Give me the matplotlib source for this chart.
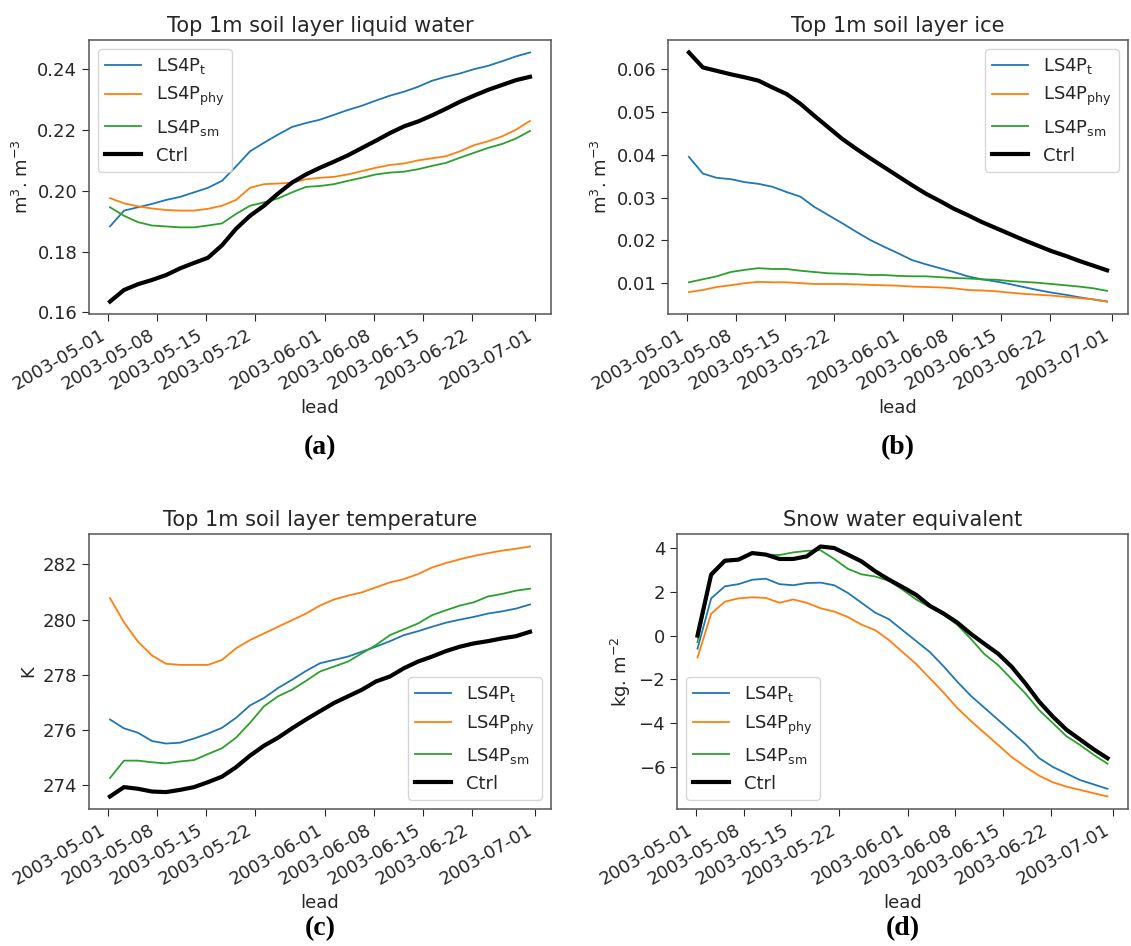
import numpy as np
import matplotlib
matplotlib.use("Agg")
import matplotlib.pyplot as plt
import matplotlib.dates as mdates

# ---- data (every 2 days) ----
dates = np.datetime64("2003-05-01T06:00") + np.arange(31) * np.timedelta64(2, "D")

labels = [r"LS4P$_{\mathrm{t}}$", r"LS4P$_{\mathrm{phy}}$", r"LS4P$_{\mathrm{sm}}$", "Ctrl"]

# (a) liquid water
liq_t = [0.1883, 0.1935, 0.1946, 0.1957, 0.1970, 0.1980, 0.1995, 0.2010, 0.2033, 0.2080,
         0.2130, 0.2158, 0.2185, 0.2210, 0.2223, 0.2234, 0.2250, 0.2266, 0.2280, 0.2297,
         0.2313, 0.2326, 0.2342, 0.2362, 0.2375, 0.2386, 0.2400, 0.2411, 0.2426, 0.2442, 0.2455]
liq_phy = [0.1976, 0.1959, 0.1949, 0.1942, 0.1937, 0.1935, 0.1935, 0.1941, 0.1951, 0.1970,
           0.2010, 0.2022, 0.2024, 0.2027, 0.2038, 0.2043, 0.2046, 0.2054, 0.2065, 0.2076,
           0.2085, 0.2090, 0.2100, 0.2107, 0.2114, 0.2130, 0.2150, 0.2163, 0.2179, 0.2201, 0.2230]
liq_sm = [0.1946, 0.1918, 0.1897, 0.1886, 0.1883, 0.1880, 0.1880, 0.1886, 0.1893, 0.1924,
          0.1951, 0.1962, 0.1975, 0.1995, 0.2013, 0.2016, 0.2022, 0.2033, 0.2043, 0.2054,
          0.2060, 0.2063, 0.2071, 0.2082, 0.2092, 0.2109, 0.2125, 0.2141, 0.2154, 0.2172, 0.2197]
liq_ctrl = [0.1636, 0.1674, 0.1693, 0.1707, 0.1723, 0.1745, 0.1763, 0.1780, 0.1821, 0.1875,
            0.1918, 0.1951, 0.1991, 0.2027, 0.2054, 0.2076, 0.2096, 0.2117, 0.2141, 0.2165,
            0.2190, 0.2212, 0.2228, 0.2248, 0.2270, 0.2293, 0.2313, 0.2332, 0.2348, 0.2364, 0.2375]

# (b) ice
ice_t = [0.0395, 0.0356, 0.0346, 0.0343, 0.0336, 0.0332, 0.0325, 0.0313, 0.0302, 0.0278,
         0.0259, 0.0240, 0.0220, 0.0201, 0.0185, 0.0170, 0.0154, 0.0144, 0.0135, 0.0126,
         0.0116, 0.0109, 0.0104, 0.0098, 0.0091, 0.0084, 0.0078, 0.0073, 0.0067, 0.0062, 0.0057]
ice_phy = [0.0079, 0.0084, 0.0091, 0.0095, 0.0100, 0.0103, 0.0102, 0.0102, 0.0100, 0.0098,
           0.0098, 0.0098, 0.0097, 0.0096, 0.0095, 0.0094, 0.0092, 0.0091, 0.0090, 0.0088,
           0.0084, 0.0083, 0.0081, 0.0078, 0.0075, 0.0073, 0.0071, 0.0068, 0.0065, 0.0062, 0.0057]
ice_sm = [0.0102, 0.0109, 0.0116, 0.0126, 0.0131, 0.0135, 0.0133, 0.0133, 0.0129, 0.0126,
          0.0123, 0.0122, 0.0121, 0.0119, 0.0119, 0.0117, 0.0116, 0.0116, 0.0114, 0.0112,
          0.0111, 0.0109, 0.0108, 0.0105, 0.0103, 0.0101, 0.0098, 0.0095, 0.0092, 0.0088, 0.0082]
ice_ctrl = [0.0639, 0.0604, 0.0596, 0.0588, 0.0581, 0.0573, 0.0557, 0.0542, 0.0519, 0.0491,
            0.0464, 0.0437, 0.0414, 0.0392, 0.0371, 0.0350, 0.0329, 0.0309, 0.0292, 0.0274,
            0.0259, 0.0243, 0.0229, 0.0215, 0.0201, 0.0188, 0.0175, 0.0164, 0.0152, 0.0141, 0.0130]

# (c) temperature
tmp_t = [276.38, 276.06, 275.90, 275.60, 275.51, 275.54, 275.69, 275.87, 276.08, 276.44,
         276.89, 277.16, 277.52, 277.82, 278.14, 278.42, 278.54, 278.66, 278.84, 279.02,
         279.22, 279.44, 279.58, 279.74, 279.89, 280.00, 280.10, 280.22, 280.30, 280.40, 280.55]
tmp_phy = [280.78, 279.90, 279.20, 278.70, 278.40, 278.36, 278.36, 278.36, 278.54, 278.96,
           279.26, 279.50, 279.74, 279.98, 280.22, 280.51, 280.73, 280.87, 280.99, 281.17,
           281.35, 281.47, 281.65, 281.89, 282.05, 282.19, 282.31, 282.41, 282.50, 282.57, 282.65]
tmp_sm = [274.26, 274.89, 274.89, 274.83, 274.79, 274.86, 274.91, 275.13, 275.34, 275.72,
          276.26, 276.86, 277.22, 277.46, 277.78, 278.12, 278.30, 278.48, 278.78, 279.08,
          279.44, 279.65, 279.86, 280.16, 280.34, 280.51, 280.63, 280.84, 280.93, 281.05, 281.12]
tmp_ctrl = [273.59, 273.93, 273.87, 273.77, 273.75, 273.83, 273.93, 274.11, 274.31, 274.65,
            275.07, 275.43, 275.72, 276.06, 276.38, 276.68, 276.98, 277.22, 277.46, 277.76,
            277.94, 278.24, 278.48, 278.66, 278.86, 279.02, 279.14, 279.22, 279.32, 279.40, 279.56]

# (d) snow water equivalent
swe_t = [-0.60, 1.70, 2.25, 2.35, 2.55, 2.60, 2.35, 2.30, 2.40, 2.42,
         2.30, 1.95, 1.50, 1.05, 0.75, 0.25, -0.25, -0.75, -1.40, -2.10,
         -2.75, -3.30, -3.85, -4.40, -4.95, -5.60, -6.00, -6.30, -6.60, -6.80, -7.00]
swe_phy = [-1.00, 1.00, 1.55, 1.70, 1.75, 1.72, 1.50, 1.65, 1.50, 1.25,
           1.10, 0.85, 0.50, 0.25, -0.20, -0.75, -1.30, -1.95, -2.60, -3.30,
           -3.90, -4.45, -5.00, -5.55, -6.00, -6.40, -6.70, -6.90, -7.05, -7.20, -7.35]
swe_sm = [-0.30, 2.70, 3.40, 3.45, 3.75, 3.70, 3.68, 3.80, 3.87, 3.90,
          3.50, 3.05, 2.80, 2.70, 2.50, 2.10, 1.65, 1.30, 0.95, 0.50,
          -0.15, -0.85, -1.35, -2.00, -2.65, -3.40, -4.00, -4.60, -5.00, -5.45, -5.85]
swe_ctrl = [0.00, 2.79, 3.42, 3.47, 3.77, 3.70, 3.50, 3.50, 3.62, 4.07,
            4.00, 3.70, 3.39, 2.94, 2.56, 2.22, 1.86, 1.36, 1.01, 0.60,
            0.08, -0.38, -0.83, -1.43, -2.19, -3.02, -3.70, -4.30, -4.75, -5.20, -5.60]

titles = ["Top 1m soil layer liquid water", "Top 1m soil layer ice",
          "Top 1m soil layer temperature", "Snow water equivalent"]
ylabels = [r"m$^3$. m$^{-3}$", r"m$^3$. m$^{-3}$", "K", r"kg. m$^{-2}$"]
captions = ["(a)", "(b)", "(c)", "(d)"]
series = [[liq_t, liq_phy, liq_sm, liq_ctrl],
          [ice_t, ice_phy, ice_sm, ice_ctrl],
          [tmp_t, tmp_phy, tmp_sm, tmp_ctrl],
          [swe_t, swe_phy, swe_sm, swe_ctrl]]
legend_locs = ["upper left", "upper right", "lower right", "lower left"]

colors = ["#1f77b4", "#ff7f0e", "#2ca02c", "black"]
widths = [1.3, 1.3, 1.3, 3.0]

W, H = 1131, 946
fig = plt.figure(figsize=(W / 100, H / 100), dpi=100)
plt.rcParams["mathtext.fontset"] = "dejavusans"

# axes boxes in pixels: left, top, right, bottom
boxes = [(89, 40, 551, 314), (668, 40, 1128, 314),
         (89, 534, 551, 809), (677, 534, 1128, 809)]
cap_y = [448, 448, 929, 929]

textc = "#262626"
for i, (l, t, r, b) in enumerate(boxes):
    ax = fig.add_axes([l / W, (H - b) / H, (r - l) / W, (b - t) / H])
    for s, c, lw, lab in zip(series[i], colors, widths, labels):
        ax.plot(dates, s, color=c, lw=lw, label=lab)
    ax.set_title(titles[i], fontsize=15, color=textc, pad=6)
    ax.set_ylabel(ylabels[i], fontsize=13, color=textc)
    ax.set_xlabel("lead", fontsize=13, color=textc)
    ax.xaxis.set_major_locator(mdates.DayLocator(bymonthday=[1, 8, 15, 22]))
    ax.xaxis.set_major_formatter(mdates.DateFormatter("%Y-%m-%d"))
    ax.tick_params(axis="both", labelsize=13, colors=textc, length=5)
    for lbl in ax.get_xticklabels():
        lbl.set_rotation(30)
        lbl.set_ha("right")
    for sp in ax.spines.values():
        sp.set_color("#555555")
        sp.set_linewidth(1.1)
    ax.legend(loc=legend_locs[i], fontsize=13, labelcolor=textc)
    cx = (l + r) / 2 / W
    fig.text(cx, 1 - cap_y[i] / H, captions[i], ha="center", va="center",
             fontsize=20, fontweight="bold", family="Liberation Serif", color="black")

fig.savefig("out.png", dpi=100)
